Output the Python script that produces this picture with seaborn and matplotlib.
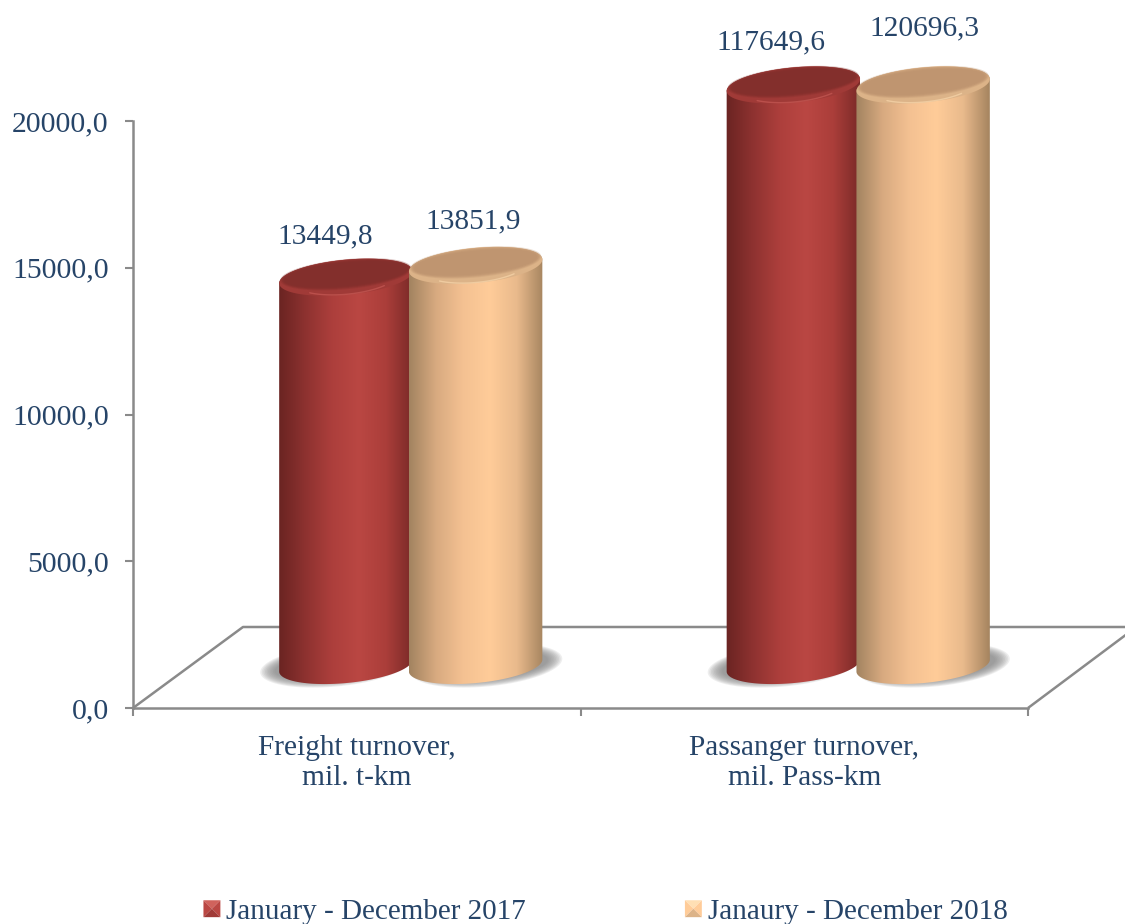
import numpy as np
import pandas as pd
import matplotlib
matplotlib.use('Agg')
import matplotlib.pyplot as plt
import seaborn as sns
from matplotlib.colors import LinearSegmentedColormap
from matplotlib.legend_handler import HandlerBase
from matplotlib.patches import Patch, Polygon

categories = ['Freight turnover,\nmil. t-km', 'Passanger turnover,\nmil. Pass-km']
periods = ['January - December 2017', 'Janaury - December 2018']
values_2017 = [13449.8, 117649.6]
values_2018 = [13851.9, 120696.3]
y_ticks = [0, 5000, 10000, 15000, 20000]

body_colors = {
    periods[0]: ['#6a2422', '#8e3230', '#ad3f3c', '#ba4743', '#ab3e3a', '#7a2a28'],
    periods[1]: ['#a28360', '#d8aa80', '#f4c192', '#ffcc99', '#e9ba8c', '#a5845f'],
}
top_colors = {periods[0]: '#832f2c', periods[1]: '#bf9570'}
rim_colors = {periods[0]: '#a03a37', periods[1]: '#dcb388'}
glow_colors = {periods[0]: '#d0625c', periods[1]: '#ffdfb4'}
text_color = '#264468'
axis_color = '#8a8a8a'

# manual label offsets from the cylinder top, in pixels (x right, y up)
label_dx = [-21, -2, -22, 1]
label_dy = [41, 44, 43, 57]

sns.set_style('white')
plt.rcParams['font.family'] = ['Liberation Serif', 'DejaVu Serif']

W, H = 1125, 924
fig = plt.figure(figsize=(W / 100, H / 100), dpi=100, facecolor='white')
ax = fig.add_axes([133 / W, (H - 708) / H, (1028 - 133) / W, (708 - 121) / H])

df = pd.DataFrame({
    'category': categories * 2,
    'period': [periods[0]] * 2 + [periods[1]] * 2,
    'value': values_2017 + values_2018,
})
sns.barplot(data=df, x='category', y='value', hue='period', hue_order=periods,
            palette=[body_colors[p][3] for p in periods], width=0.58, gap=0,
            legend=False, ax=ax)

ax.set_xlim(-0.5, 1.5)
ax.set_ylim(0, y_ticks[-1])
PX_X = (1028 - 133) / 2
PX_Y = (708 - 121) / y_ticks[-1]
ax.set_xlabel('')
ax.set_ylabel('')


def tilted(cx, cy, a, b, t0=0, t1=2 * np.pi, tilt=5.5, n=90):
    # ellipse given in data units for the centre, pixels for the radii
    t = np.linspace(t0, t1, n)
    th = np.deg2rad(tilt)
    dx = a * np.cos(t) * np.cos(th) - b * np.sin(t) * np.sin(th)
    dy = a * np.cos(t) * np.sin(th) + b * np.sin(t) * np.cos(th)
    return np.column_stack([cx + dx / PX_X, cy + dy / PX_Y])


def floor_x(px):
    return -0.5 + (px - 133) / PX_X


def floor_y(py):
    return (708 - py) / PX_Y


# floor of the 3d box
floor = dict(color=axis_color, lw=1.8, clip_on=False, zorder=1, solid_capstyle='butt')
ax.plot([floor_x(133), floor_x(243), floor_x(1135)],
        [floor_y(708), floor_y(627), floor_y(627)], **floor)
ax.plot([floor_x(1028), floor_x(1135)], [floor_y(708), floor_y(628)], **floor)

bars = sorted([p for p in ax.patches if p.get_width() > 0], key=lambda p: p.get_x())
for p in bars:
    p.set_visible(False)

depth_x = 54 / PX_X
depth_y = 36 / PX_Y
base_y = 42.5 / PX_Y
a_px = 67
b_px = 17.5
labels = values_2017[:1] + values_2018[:1] + values_2017[1:] + values_2018[1:]
series = [periods[0], periods[1], periods[0], periods[1]]

# shadows go below every cylinder
for i, p in enumerate(bars):
    cx = p.get_x() + p.get_width() / 2 + depth_x
    shift = (-10 if i % 2 == 0 else 11) / PX_X
    for k in range(10):
        ax.fill(*tilted(cx + shift, base_y, a_px + 9 - k * 1.6, b_px + 3.5 - k * 0.8).T,
                color='#808080', alpha=0.13, lw=0, clip_on=False, zorder=2)

z = 3
for i, p in enumerate(bars):
    name = series[i]
    cx = p.get_x() + p.get_width() / 2 + depth_x
    top = min(p.get_height(), y_ticks[-1]) + depth_y

    outline = np.vstack([tilted(cx, base_y, a_px, b_px, np.pi, 2 * np.pi),
                         tilted(cx, top, a_px, b_px, 0, np.pi)])
    clip = Polygon(outline, closed=True, transform=ax.transData, fc='none', ec='none')
    ax.add_patch(clip)
    clip.set_clip_on(False)
    cmap = LinearSegmentedColormap.from_list(name, body_colors[name])
    im = ax.imshow(np.linspace(0, 1, 256)[None, :], cmap=cmap, aspect='auto', zorder=z,
                   extent=[cx - a_px / PX_X, cx + a_px / PX_X, 0, top + 30 / PX_Y])
    im.set_clip_box(fig.bbox)
    im.set_clip_path(clip)

    # bevelled lid
    ax.fill(*tilted(cx, top, a_px, b_px).T, color=rim_colors[name], lw=0,
            clip_on=False, zorder=z + 0.1)
    ax.plot(*tilted(cx, top, a_px - 14, b_px - 0.5, 1.25 * np.pi, 1.75 * np.pi).T,
            color=glow_colors[name], lw=1.0, alpha=0.55, clip_on=False, zorder=z + 0.2)
    for k in range(5):
        ax.fill(*tilted(cx, top + 3 / PX_Y, a_px - 1 - k * 1.3, b_px - 2.5 - k * 1.0).T,
                color=top_colors[name], lw=0, alpha=0.3 + k * 0.15, clip_on=False,
                zorder=z + 0.3)

    text = f'{labels[i]:.1f}'.replace('.', ',')
    ax.text(cx + label_dx[i] / PX_X, top + label_dy[i] / PX_Y, text, ha='center',
            va='center', fontsize=21.2, color=text_color, clip_on=False, zorder=z + 1)
    z += 1

ax.set_xlim(-0.5, 1.5)
ax.set_ylim(0, y_ticks[-1])

sns.despine(ax=ax)
for side in ['left', 'bottom']:
    ax.spines[side].set_color(axis_color)
    ax.spines[side].set_linewidth(1.8)
    ax.spines[side].set_zorder(1.5)

ax.set_yticks(y_ticks)
ax.set_yticklabels([f'{v:.1f}'.replace('.', ',') for v in y_ticks])
ax.tick_params(axis='y', length=6, width=1.5, color=axis_color, left=True,
               labelsize=21.4, labelcolor=text_color, pad=11.5)
ax.set_xticks([0, 1])
ax.set_xticklabels(categories)
ax.set_xticks([-0.5, 0.5, 1.5], minor=True)
ax.tick_params(axis='x', which='major', length=0, labelsize=21.2, labelcolor=text_color, pad=19.5)
ax.tick_params(axis='x', which='minor', length=6, width=1.5, color=axis_color, bottom=True)
for lab in ax.get_xticklabels():
    lab.set_linespacing(1.2)


class BevelHandler(HandlerBase):
    def create_artists(self, legend, orig_handle, xdescent, ydescent, width, height,
                       fontsize, trans):
        name = orig_handle.get_label()
        base = body_colors[name][3]
        light = glow_colors[name]
        dark = rim_colors[name]
        x0, y0 = -xdescent, -ydescent + (height - width) / 2
        x1, y1 = x0 + width, y0 + width
        xm, ym = (x0 + x1) / 2, (y0 + y1) / 2
        faces = [
            ([(x0, y1), (x1, y1), (xm, ym)], light),
            ([(x0, y0), (x0, y1), (xm, ym)], base),
            ([(x1, y0), (x1, y1), (xm, ym)], base),
            ([(x0, y0), (x1, y0), (xm, ym)], dark),
        ]
        return [Polygon(pts, closed=True, fc=col, ec='none', transform=trans)
                for pts, col in faces]


handles = [Patch(label=name) for name in periods]
fig.legend(handles=handles, labels=periods, loc='center', bbox_to_anchor=(605.5 / W, (H - 912) / H),
           ncol=2, frameon=False, fontsize=21, labelcolor=text_color, handlelength=0.58,
           handleheight=0.58, handletextpad=0.2, columnspacing=5.45, borderpad=0,
           borderaxespad=0, handler_map={Patch: BevelHandler()})

fig.savefig('out.png', dpi=100, facecolor='white')
